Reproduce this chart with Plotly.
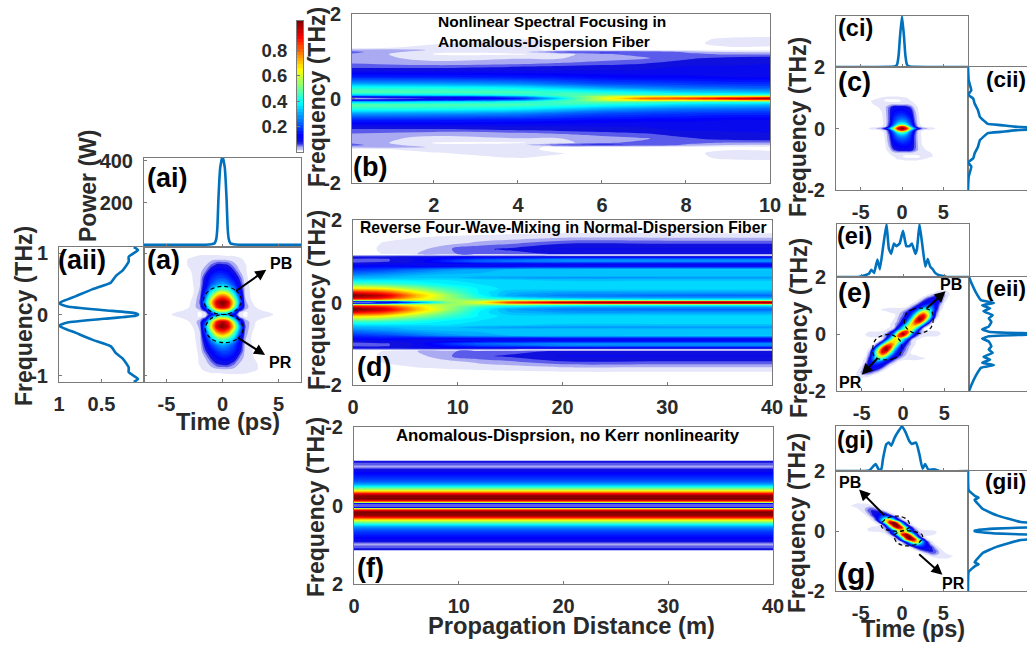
import numpy as np
import plotly.graph_objects as go

W, H = 1027, 646
FONT = "Liberation Sans"
INK = "#2a2a2a"
LINE = "#0072BD"
FRAME = "#7a7a7a"

# ---- colour map: jet with a white / lavender low end
SCALE = [[0, "#ffffff"], [0.008, "#ffffff"], [0.012, "#dcdcfa"], [0.03, "#b4b4f3"], [0.05, "#6a6aee"],
         [0.075, "#1010dd"], [0.125, "#0000ff"], [0.375, "#00ffff"], [0.625, "#ffff00"],
         [0.875, "#ff0000"], [1, "#7f0000"]]
CB_LEVELS = [0, .01, .02, .03, .04, .05, .06, .07, .08, .1, .125, .15, .175, .2, .225, .25, .275, .3, .325, .35,
             .375, .4, .425, .45, .475, .5, .525, .55, .575, .6, .625, .65, .675, .7, .725, .75, .775, .8, .825,
             .85, .875, .9, .925, .95, .975, 1, 1.03]
CB_TICKS = [0.2, 0.4, 0.6, 0.8]

# ---- panel (ai), (aii)
AI_TIME = [-7, -1.5, -1, -.7, -.55, -.45, -.37, -.2, 0, .2, .37, .45, .55, .7, 1, 1.5, 7]
AI_POWER = [0, 1, 3, 8, 30, 90, 210, 370, 425, 370, 210, 90, 30, 8, 3, 1, 0]
A_FREQ = [0, .02, .07, .13, .185, .3, .41, .52, .63, .72, .86, .94, 1.05, 1.1]
A_SPEC = [.07, .1, .47, .9, 1.0, .8, .61, .39, .33, .25, .18, .18, .07, .12]

# ---- panel (f): spectrum held constant along the fiber
F_Z = [0, 20, 40]
F_FREQ = [0, .04, .06, .09, .12, .17, .25, .3, .34, .38, .44, .5, .56, .65, .8, .9, .98, 1.05, 1.1, 1.135, 1.145, 1.6]
F_SPEC = [.07, .07, .15, .7, .9, 1.03, 1.0, .9, .75, .62, .48, .36, .27, .2, .14, .1, .045, .06, .08, .08, 0, 0]

# ---- panel (ci), (cii)
CI_TIME = [-8, -1.2, -.8, -.6, -.4, -.25, 0, .25, .4, .6, .8, 1.2, 8]
CI_POWER = [0, .005, .015, .05, .25, .6, 1.03, .6, .25, .05, .015, .005, 0]
CII_FREQ = [0, .02, .06, .11, .15, .22, .38, .6, .81, .97, 1.1, 1.24, 1.57, 2]
CII_SPEC = [1, .6, .35, .25, .15, .13, .09, .075, .05, .04, .0, .025, .005, 0]

# ---- panel (ei), (eii)
EI_TIME = [-8, -5.5, -4.7, -4.1, -3.84, -3.5, -3.1, -2.8, -2.4, -2, -1.72, -1.44, -1.1, -.8, -.4, 0, .4, .8, 1.08,
           1.5, 1.7, 2, 2.36, 2.7, 3, 3.3, 3.6, 3.9, 4.3, 4.9, 5.3, 8]
EI_POWER = [0, 0, .03, .07, .14, .08, .34, .15, .6, 1.03, .55, .45, .65, .6, .65, .9, .6, .6, .65, .45, .55, 1.03,
            .6, .2, .35, .2, .15, .08, .04, .02, 0, 0]
EII_FREQ = [0, .03, .08, .16, .26, .43, .55, .66, .8, .9, 1.01, 1.09, 1.19, 1.48, 1.77, 2]
EII_SPEC = [1, .4, .15, .1, .15, .17, .15, .18, .11, .16, .1, .19, .09, .05, .02, 0]

# ---- panel (gi), (gii)
GI_TIME = [-8, -4.5, -3.9, -3.2, -2.8, -2.5, -2.3, -1.9, -1.6, -1.3, -.9, -.4, 0, .4, .9, 1.2, 1.7, 2.1, 2.5, 2.8,
           3.2, 3.9, 4.5, 8]
GI_POWER = [0, 0, .02, .16, .03, .05, .28, .61, .65, .58, .76, .92, 1.02, .9, .68, .62, .65, .39, .05, .16, .03,
            .04, 0, 0]
GII_FREQ = [0, .02, .08, .12, .17, .3, .52, .74, 1.04, 1.11, 1.16, 1.36, 2]
GII_SPEC = [.06, .05, .2, .46, 1, .4, .22, .11, .05, .08, .055, .005, 0]

# ---- panel (a) contour grid, upper half (lower half is its point reflection)
A_T = [-4.5, -3.5, -3, -2.5, -2, -1.5, -1, -.5, 0, .5, 1, 1.5, 2, 2.5, 3, 3.5, 4.5]
A_F = [0, .03, .07, .12, .2, .3, .4, .5, .6, .7, .8, .9, .95, 1.0]
A_Z = [
    [.012, .02, .03, .02, .002, .02, .12, .22, .28, .22, .12, .02, .002, .02, .03, .02, .012],
    [.005, .02, .03, .015, .003, .03, .2, .4, .45, .4, .2, .03, .003, .015, .03, .02, .005],
    [0, .008, .02, .025, .03, .1, .35, .6, .68, .6, .35, .1, .03, .02, .02, .008, 0],
    [0, 0, .008, .025, .05, .2, .55, .88, .97, .88, .55, .2, .05, .02, .008, 0, 0],
    [0, 0, .005, .02, .06, .32, .68, .95, 1.03, .95, .65, .28, .04, .012, .003, 0, 0],
    [0, 0, .002, .012, .05, .24, .5, .72, .8, .72, .47, .2, .03, .008, 0, 0, 0],
    [0, 0, 0, .01, .035, .16, .33, .45, .5, .45, .3, .14, .025, .006, 0, 0, 0],
    [0, 0, 0, .012, .03, .12, .21, .27, .3, .26, .19, .1, .02, .004, 0, 0, 0],
    [0, 0, 0, .014, .025, .1, .17, .2, .21, .18, .13, .07, .015, .003, 0, 0, 0],
    [0, 0, .004, .016, .022, .055, .12, .15, .15, .13, .085, .035, .012, .002, 0, 0, 0],
    [0, 0, .012, .018, .02, .03, .06, .09, .09, .08, .045, .02, .012, 0, 0, 0, 0],
    [0, 0, .012, .015, .016, .018, .022, .025, .025, .022, .018, .015, .005, 0, 0, 0, 0],
    [0, 0, .003, .008, .013, .014, .015, .015, .012, .01, .01, .005, 0, 0, 0, 0, 0],
    [0] * 17,
]

# ---- panel (c) contour grid, upper half
C_T = [-4.5, -3.5, -2.5, -2, -1.5, -1, -.5, 0, .5, 1, 1.5, 2, 2.5, 3.5, 4.5]
C_F = [0, .03, .07, .12, .2, .3, .45, .6, .7, .8, .9, 1.0, 1.1]
C_Z = [
    [0, .02, .05, .12, .3, .6, .92, 1.03, .92, .6, .3, .12, .05, .02, 0],
    [0, .012, .03, .07, .2, .48, .85, .97, .85, .48, .2, .07, .03, .012, 0],
    [0, 0, .008, .02, .1, .33, .65, .82, .65, .33, .1, .02, .008, 0, 0],
    [0, 0, .005, .015, .09, .24, .42, .52, .42, .24, .09, .015, .003, 0, 0],
    [0, 0, .005, .015, .075, .2, .3, .34, .3, .2, .07, .012, .002, 0, 0],
    [0, 0, .005, .018, .07, .18, .23, .25, .23, .17, .06, .012, 0, 0, 0],
    [0, 0, .005, .022, .07, .15, .17, .18, .16, .13, .05, .01, 0, 0, 0],
    [0, 0, .01, .026, .07, .12, .13, .13, .12, .1, .035, .008, 0, 0, 0],
    [0, 0, .015, .028, .06, .1, .1, .1, .09, .065, .022, .005, 0, 0, 0],
    [0, .01, .02, .025, .02, .02, .02, .02, .025, .02, .01, 0, 0, 0, 0],
    [0, .012, .016, .005, .002, .002, .003, .01, .015, .01, .005, 0, 0, 0, 0],
    [0, .002, .01, .013, .015, .015, .015, .012, .01, .005, 0, 0, 0, 0, 0],
    [0] * 15,
]

# ---- panel (e): upper half; each row starts at E_START (time, ps), step 0.5 ps
E_T = [i * 0.5 for i in range(-12, 13)]
E_F = [0, .08, .16, .25, .35, .45, .55, .65, .75, .85, .95, 1.05, 1.15, 1.25, 1.35, 1.45, 1.55, 1.65]
E_START = [-5, -5, -2.5, -2, -1.5, -1.5, -1, -1, -2, -3, -2, 1, 1.5, 2, 3, 3.5, 4.5, 0]
E_ROWS = [
    [.005, .01, .015, .02, .02, .02, .05, .12, .35, .8, 1.03, .8, .35, .12, .05, .02, .02, .02, .015, .01, .005],
    [.002, .006, .01, .01, .01, .012, .02, .07, .2, .55, .85, .88, .55, .22, .06, .02, .015, .015, .012, .008, .003],
    [.003, .01, .02, .07, .25, .45, .62, .66, .38, .1, .01, .002, .002, .004, .003],
    [.002, .01, .03, .12, .33, .56, .68, .6, .33, .07, .008, .002, .004, .003],
    [.01, .03, .07, .17, .38, .68, .8, .68, .33, .08, .01],
    [.005, .015, .05, .1, .23, .52, .88, .97, .72, .3, .05, .005],
    [.01, .04, .08, .15, .33, .72, 1.03, .92, .58, .18, .02],
    [.005, .03, .06, .1, .22, .48, .82, .92, .68, .28, .05],
    [.003, .01, .012, .02, .05, .09, .15, .28, .55, .72, .6, .28, .07, .005],
    [.005, .012, .015, .018, .018, .015, .02, .05, .09, .16, .3, .46, .5, .3, .1, .015],
    [.003, .005, .005, .005, .005, .01, .04, .09, .15, .22, .29, .25, .12, .03, .002],
    [.01, .03, .08, .13, .17, .18, .13, .05, .005],
    [.005, .03, .08, .11, .13, .13, .08, .015],
    [.005, .03, .07, .1, .11, .09, .03, .005],
    [.015, .04, .07, .07, .04, .012],
    [.003, .015, .03, .025, .012, .002],
    [.002, .006, .004],
    [],
]

# ---- panel (g): upper half; each row starts at G_START (time, ps), step 0.5 ps
G_T = [i * 0.5 for i in range(-14, 15)]
G_F = [0, .06, .12, .2, .28, .36, .44, .52, .6, .68, .76, .84, .9, .96, 1.0]
G_START = [-4.5, -4.5, -4.5, -3, -3.5, -4, -4, -4.5, -5, -5.5, -6, -6.5, -6.5, -6, 0]
G_ROWS = [
    [.003, .01, .015, .015, .02, .03, .08, .25, .55, .65, .55, .25, .08, .03, .02, .015, .015, .01, .003],
    [.005, .012, .018, .018, .02, .04, .14, .42, .72, .76, .52, .2, .06, .015, .004, .002],
    [.002, .008, .015, .015, .02, .06, .3, .75, 1.0, .88, .42, .12, .03, .005],
    [.005, .02, .14, .65, 1.03, 1.0, .52, .14, .03, .005],
    [.003, .02, .14, .52, .95, 1.03, .72, .24, .05, .01, .002],
    [.003, .015, .09, .32, .65, .75, .45, .15, .04, .008],
    [.008, .04, .12, .24, .36, .32, .18, .06, .01],
    [.005, .03, .08, .13, .17, .16, .1, .03, .003],
    [.003, .015, .05, .09, .1, .1, .07, .02],
    [.002, .01, .03, .07, .08, .07, .04, .008],
    [.003, .008, .015, .03, .05, .05, .02, .004],
    [.003, .012, .02, .02, .025, .02, .01, .002],
    [.001, .005, .012, .012, .012, .008, .002],
    [.002, .003, .002],
    [],
]

# ---- panel (b): propagation map, upper half (mirrored about 0 THz)
B_Z = [.05, 2, 4, 5, 6, 7, 8, 9, 10]
B_F = [0, .04, .08, .15, .25, .35, .5, .65, .75, .85, .95, 1.05, 1.1, 1.15, 1.2, 1.3, 1.4, 1.5]
B_MAP = [
    [.03, .08, .15, .35, .6, .8, .85, .95, 1.03],
    [.1, .15, .25, .42, .58, .66, .66, .68, .72],
    [.33, .37, .42, .46, .48, .46, .44, .43, .43],
    [.48, .47, .46, .44, .41, .38, .34, .33, .31],
    [.42, .41, .38, .34, .3, .27, .25, .24, .23],
    [.3, .29, .27, .24, .21, .2, .19, .18, .18],
    [.17, .17, .16, .15, .14, .13, .13, .12, .12],
    [.1, .1, .1, .1, .1, .1, .1, .1, .1],
    [.065, .065, .075, .08, .085, .09, .1, .1, .1],
    [.05, .035, .04, .05, .06, .07, .085, .09, .095],
    [.04, .025, .03, .03, .04, .05, .07, .085, .09],
    [.05, .008, .006, .02, .05, .06, .06, .05, .05],
    [.06, .012, .02, .07, .08, .07, .05, .03, .03],
    [.04, .03, .015, .005, .005, .005, .005, .003, .005],
    [0, .02, .015, .003, 0, 0, 0, .005, .003],
    [0, .006, .02, .01, 0, 0, 0, .02, .02],
    [0, 0, .01, .005, 0, 0, 0, .015, .02],
    [0, 0, 0, 0, 0, 0, 0, 0, 0],
]

# ---- panel (d): propagation map, upper half
D_Z = [0, 3, 6, 9, 12, 15, 20, 30, 40]
D_F = [0, .02, .04, .07, .12, .17, .25, .33, .45, .55, .6, .65, .8, .88, .92, 1.0, 1.05, 1.1, 1.13, 1.155, 1.18,
       1.3, 1.45, 1.55, 1.65, 1.72, 1.9]
D_MAP = [
    [.06, .08, .25, .5, .62, .85, 1.0, 1.03, 1.03],
    [.07, .09, .3, .52, .6, .78, .85, .9, .9],
    [.3, .35, .5, .55, .55, .6, .58, .55, .55],
    [.8, .75, .65, .55, .5, .45, .4, .38, .38],
    [.97, .9, .7, .55, .42, .35, .3, .28, .28],
    [1.03, .95, .72, .55, .4, .3, .26, .24, .24],
    [.88, .82, .65, .5, .38, .32, .3, .3, .3],
    [.68, .65, .55, .45, .38, .35, .35, .35, .35],
    [.47, .45, .42, .38, .36, .36, .36, .36, .36],
    [.35, .36, .36, .36, .35, .34, .33, .33, .33],
    [.32, .32, .33, .33, .3, .29, .28, .28, .28],
    [.28, .3, .32, .33, .33, .33, .33, .33, .33],
    [.18, .2, .24, .28, .3, .32, .34, .34, .34],
    [.13, .14, .12, .12, .12, .12, .12, .12, .12],
    [.1, .11, .1, .1, .1, .1, .1, .1, .1],
    [.06, .07, .1, .18, .24, .26, .28, .28, .28],
    [.07, .07, .1, .15, .2, .22, .26, .26, .26],
    [.09, .09, .1, .12, .12, .12, .12, .12, .12],
    [.06, .06, .06, .06, .06, .06, .05, .05, .05],
    [0, .005, .003, .005, .005, .006, .008, .008, .008],
    [0, .01, .03, .05, .06, .065, .08, .08, .08],
    [0, .012, .02, .05, .07, .08, .1, .1, .1],
    [0, .01, .015, .02, .035, .045, .07, .07, .07],
    [0, .005, .01, .015, .02, .025, .035, .035, .035],
    [0, 0, .005, .005, .007, .01, .014, .014, .014],
    [0, 0, 0, 0, 0, 0, .002, .002, .002],
    [0, 0, 0, 0, 0, 0, 0, 0, 0],
]

# ---- dashed outlines
A_RING_T = [0, 1.2, 1.7, 1.2, 0, -1.2, -1.7, -1.2, 0]
A_RING_F = [.46, .39, .23, .07, 0, .07, .23, .39, .46]
E_RING_T = [.3, 1.1, 2.5, 3.5, 3.6, 3.1, 1.5, .3, .3]
E_RING_F = [.66, .86, .9, .78, .37, .14, .02, .26, .66]
G_RING_T = [-2.5, -1.7, -.3, .7, .9, -.1, -1.5, -2.4, -2.5]
G_RING_F = [.24, .44, .49, .36, .13, 0, .02, .11, .24]


def pad(rows, starts, times):
    out = []
    for row, s in zip(rows, starts):
        full = [0.0] * len(times)
        i0 = times.index(s) if row else 0
        for k, v in enumerate(row):
            full[i0 + k] = v
        out.append(full)
    return out


def point_reflect(freq, z):
    z = np.array(z, float)
    f = np.array(freq, float)
    return np.r_[-f[:0:-1], f], np.vstack([z[:0:-1, ::-1], z])


def mirror(freq, z):
    z = np.array(z, float)
    f = np.array(freq, float)
    return np.r_[-f[:0:-1], f], np.vstack([z[:0:-1], z])


def mirror_line(freq, spec):
    f, s = np.array(freq, float), np.array(spec, float)
    return np.r_[-f[:0:-1], f], np.r_[s[:0:-1], s]


fig = go.Figure()
layout = {}
n_ax = [0]


def axes(x0, x1, y0, y1, xr, yr, xticks=(), yticks=(), xlabels=False, ylabels=False, top=True, right=True,
         xstand=4, ystand=6, yside="left", ticklen=3):
    n_ax[0] += 1
    n = n_ax[0]
    sx = "" if n == 1 else str(n)
    common = dict(showgrid=False, zeroline=False, showline=True, linecolor=FRAME, linewidth=1,
                  ticks="inside", ticklen=ticklen, tickwidth=1, tickcolor=FRAME,
                  tickfont=dict(family=FONT, size=20, color=INK, weight="bold"), layer="above traces",
                  tickmode="array")
    layout["xaxis" + sx] = dict(common, domain=[x0 / W, x1 / W], range=xr, anchor="y" + sx,
                                tickvals=list(xticks), ticktext=[str(v) for v in xticks], showticklabels=xlabels,
                                mirror=top, ticklabelstandoff=xstand)
    layout["yaxis" + sx] = dict(common, domain=[1 - y1 / H, 1 - y0 / H], range=yr, anchor="x" + sx,
                                tickvals=list(yticks), ticktext=[str(v) for v in yticks], showticklabels=ylabels,
                                mirror=right, ticklabelstandoff=ystand, side=yside)
    return ("x" + sx, "y" + sx)


def contour(ax, x, y, z):
    fig.add_trace(go.Contour(x=list(x), y=list(y), z=np.asarray(z).tolist(), xaxis=ax[0], yaxis=ax[1],
                             colorscale=SCALE, zmin=0, zmax=1.03, showscale=False, hoverinfo="skip",
                             contours=dict(coloring="fill", start=0.009, end=1.04, size=0.022, showlines=False),
                             line=dict(width=0), connectgaps=True))


def curve(ax, x, y, smooth=0.5):
    fig.add_trace(go.Scatter(x=list(x), y=list(y), mode="lines", xaxis=ax[0], yaxis=ax[1], showlegend=False,
                             line=dict(color=LINE, width=2.6, shape="spline", smoothing=smooth), hoverinfo="skip"))


def ring(ax, t, f):
    fig.add_trace(go.Scatter(x=list(t), y=list(f), mode="lines", xaxis=ax[0], yaxis=ax[1], showlegend=False,
                             line=dict(color="black", width=1.2, dash="4px,3px", shape="spline"), hoverinfo="skip"))


notes = []


def text(px, py, s, size, anchor="left", color="black", angle=0):
    notes.append(dict(x=px / W, y=1 - py / H, xref="paper", yref="paper", text=s, showarrow=False,
                      xanchor=anchor, yanchor="middle", textangle=angle, borderpad=0, borderwidth=0,
                      font=dict(family=FONT, size=size, color=color, weight="bold")))


def arrow(ax, t0, f0, t1, f1):
    notes.append(dict(x=t1, y=f1, ax=t0, ay=f0, xref=ax[0], yref=ax[1], axref=ax[0], ayref=ax[1], text="",
                      showarrow=True, arrowhead=2, arrowsize=1.1, arrowwidth=2, arrowcolor="black"))


F_TICKS = [-2, 0, 2]
T_TICKS = [-5, 0, 5]
D_TICKS = [0, 10, 20, 30, 40]
B_TICKS = [2, 4, 6, 8, 10]
ys = [-1, 0, 1]

# left group ---------------------------------------------------------------
ax = axes(144, 301, 158, 247, [-7, 7], [-10, 414], T_TICKS, [200, 400], ylabels=True)
curve(ax, AI_TIME, AI_POWER, 0.3)
ax = axes(59, 144, 247, 382, [1, 0], [-1.1, 1.1], [1, .5], ys, True, True)
f, s = mirror_line(A_FREQ, A_SPEC)
curve(ax, s, f)
ax = axes(144, 301, 247, 382, [-7, 7], [-1.1, 1.1], T_TICKS, ys, True, False)
f, z = point_reflect(A_F, A_Z)
contour(ax, A_T, f, z)
ring(ax, A_RING_T, A_RING_F)
ring(ax, [t + .15 for t in A_RING_T], [-v for v in A_RING_F])
arrow(ax, 1.1, .37, 3.9, .73)
arrow(ax, 1.3, -.37, 3.8, -.66)
text(281, 263, "PB", 16, "center")
text(280, 362, "PR", 16, "center")

# colour bar ---------------------------------------------------------------
ax = axes(297, 303, 21, 152, [0, 1], [0, 1.03], [], CB_TICKS, False, True, ystand=5)
layout["yaxis" + ax[1][1:]]["tickfont"] = dict(family=FONT, size=18.5, color=INK, weight="bold")
fig.add_trace(go.Heatmap(x=[0, 1], y=CB_LEVELS, z=[[v, v] for v in CB_LEVELS], xaxis=ax[0], yaxis=ax[1],
                         colorscale=SCALE, zmin=0, zmax=1.03, showscale=False, hoverinfo="skip"))

# middle group -------------------------------------------------------------
ax = axes(352, 770, 14, 183, [0.05, 10], [-2, 2], B_TICKS, F_TICKS, True, True)
f, z = mirror(B_F, B_MAP)
contour(ax, B_Z, f, z)
ax = axes(353, 772, 220, 385, [0, 40], [-2, 2], D_TICKS, F_TICKS, True, True)
f, z = mirror(D_F, D_MAP)
contour(ax, D_Z, f, z)
ax = axes(354, 773, 427, 584, [0, 40], [2, -2], D_TICKS, F_TICKS, True, True)
f, s = mirror_line(F_FREQ, F_SPEC)
contour(ax, F_Z, f, [[v] * 3 for v in s])

# right group: (c) ---------------------------------------------------------
ax = axes(836, 968, 16, 67, [-8, 8], [0, 1.03], T_TICKS, [])
curve(ax, CI_TIME, CI_POWER, 0.3)
ax = axes(836, 968, 67, 190, [-8, 8], [-2, 2], T_TICKS, F_TICKS, True, True)
f, z = point_reflect(C_F, C_Z)
contour(ax, C_T, f, z)
ax = axes(968, 1027, 67, 190, [0, 0.447], [-2, 2], [], [], right=False)
f, s = mirror_line(CII_FREQ, CII_SPEC)
curve(ax, s, f, 0.3)

# right group: (e) ---------------------------------------------------------
ax = axes(837, 969, 224, 277, [-8, 8], [0, 1.03], T_TICKS, [])
curve(ax, EI_TIME, EI_POWER, 0.3)
ax = axes(837, 969, 277, 391, [-8, 8], [-2, 2], T_TICKS, F_TICKS, True, True)
f, z = point_reflect(E_F, pad(E_ROWS, E_START, E_T))
contour(ax, E_T, f, z)
ring(ax, E_RING_T, E_RING_F)
ring(ax, [-t for t in E_RING_T], [-v for v in E_RING_F])
arrow(ax, 2.7, .86, 5.16, 1.5)
arrow(ax, -2.9, -.79, -5, -1.43)
text(780 + 512 / 3, 210 + 222 / 3, "PB", 16, "center")
text(780 + 212 / 3, 210 + 518 / 3, "PR", 16, "center")
ax = axes(969, 1027, 277, 391, [0, 0.44], [-2, 2], [], [], right=False)
f, s = mirror_line(EII_FREQ, EII_SPEC)
curve(ax, s, f, 0.3)

# right group: (g) ---------------------------------------------------------
ax = axes(836, 968, 426, 471, [-8, 8], [0, 1.03], T_TICKS, [])
curve(ax, GI_TIME, GI_POWER)
ax = axes(836, 968, 471, 591, [-8, 8], [-2, 2], T_TICKS, F_TICKS, True, True)
f, z = point_reflect(G_F, pad(G_ROWS, G_START, G_T))
contour(ax, G_T, f, z)
ring(ax, G_RING_T, G_RING_F)
ring(ax, [-t for t in G_RING_T], [-v for v in G_RING_F])
arrow(ax, -1.96, .47, -5.2, 1.38)
arrow(ax, 1.9, -.73, 4.9, -1.46)
text(780 + 210 / 3, 420 + 188 / 3, "PB", 16, "center")
text(780 + 520 / 3, 420 + 490 / 3, "PR", 16, "center")
ax = axes(968, 1027, 471, 591, [0, 0.447], [-2, 2], [], [], right=False)
f, s = mirror_line(GII_FREQ, GII_SPEC)
curve(ax, s, f, 0.3)

# panel letters --------------------------------------------------------------
for px, py, s, size in [(147, 178, "(ai)", 27), (58, 260, "(aii)", 27), (147, 260, "(a)", 27), (353, 167, "(b)", 27),
                        (357, 367, "(d)", 27), (357, 568, "(f)", 27), (838, 28, "(ci)", 23.5), (838, 82, "(c)", 27),
                        (986, 80, "(cii)", 22.5), (837, 236, "(ei)", 23.5), (838, 293, "(e)", 27),
                        (986, 288, "(eii)", 22.5), (837, 440, "(gi)", 23.5), (837, 573, "(g)", 30),
                        (985, 482, "(gii)", 22.5)]:
    text(px, py, s, size)

# panel captions -------------------------------------------------------------
text(438, 21, "Nonlinear Spectral Focusing in", 15.5)
text(438, 42, "Anomalous-Dispersion Fiber", 15.5)
text(360, 227, "Reverse Four-Wave-Mixing in Normal-Dispersion Fiber", 15.7)
text(396, 435, "Anomalous-Disprsion, no Kerr nonlinearity", 16.8)

# axis titles ----------------------------------------------------------------
for px, py in [(24, 316), (317, 97), (317, 300), (316, 507), (798, 127), (799, 328), (797, 523)]:
    text(px, py, "Frequency (THz)", 23, "center", INK, -90)
text(88, 186, "Power (W)", 23, "center", INK, -90)
text(228, 422, "Time (ps)", 23.5, "center", INK)
text(913, 629, "Time (ps)", 23.5, "center", INK)
text(571, 626, "Propagation Distance (m)", 23.7, "center", INK)

fig.update_layout(width=W, height=H, margin=dict(l=0, r=0, t=0, b=0, autoexpand=False), paper_bgcolor="white",
                  plot_bgcolor="white", showlegend=False, annotations=notes, **layout)
fig.write_html("out.html", config={"displayModeBar": False},
               post_script="document.body.style.margin='0';document.body.style.overflow='hidden';")
